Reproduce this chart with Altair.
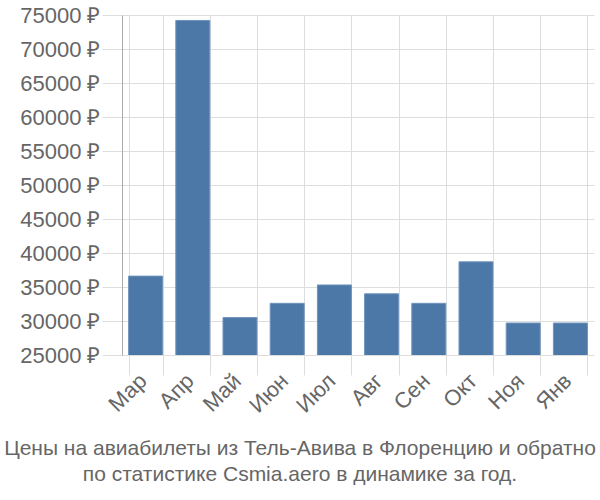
import altair as alt
import pandas as pd

months = ["Мар", "Апр", "Май", "Июн", "Июл", "Авг", "Сен", "Окт", "Ноя", "Янв"]
prices = [36600, 74200, 30500, 32600, 35300, 34000, 32600, 38700, 29700, 29700]
y_ticks = [25000, 30000, 35000, 40000, 45000, 50000, 55000, 60000, 65000, 70000, 75000]
title_lines = ["Цены на авиабилеты из Тель-Авива в Флоренцию и обратно",
               "по статистике Csmia.aero в динамике за год."]

df = pd.DataFrame({"month": months, "price": prices})

font = "Liberation Sans"

chart = alt.Chart(df).mark_bar(
    color="#4c78a8", stroke="#6f93bd", strokeWidth=1, clip=True
).encode(
    x=alt.X("month:N", sort=months, title=None,
            scale=alt.Scale(paddingInner=0.28, paddingOuter=0.14),
            axis=alt.Axis(labelAngle=315, labelFontSize=22, labelColor="#666666",
                          labelFont=font, tickBand="extent", grid=True,
                          labelBaseline="middle", labelOffset=-3,
                          gridColor="#dddddd", tickSize=20, tickColor="#dddddd",
                          domain=False, labelPadding=2)),
    y=alt.Y("price:Q", title=None,
            scale=alt.Scale(domain=[25000, 75000], zero=False, nice=False),
            axis=alt.Axis(values=y_ticks, labelExpr="datum.value + ' ₽'",
                          labelFontSize=22, labelColor="#666666", labelFont=font,
                          gridColor="#dddddd", tickSize=20, tickColor="#dddddd",
                          domainColor="#aaaaaa", labelPadding=2)),
).properties(
    width=472, height=340,
    autosize=alt.AutoSizeParams(type="none"),
    padding={"left": 122, "top": 15, "right": 6, "bottom": 145},
    title=alt.TitleParams(text=title_lines, orient="bottom", anchor="middle",
                          fontSize=21, fontWeight="normal", color="#666666",
                          font=font, offset=22, lineHeight=26, dx=-58),
).configure_view(stroke=None)

chart.save("out.html", embed_options={"renderer": "svg", "actions": False})
